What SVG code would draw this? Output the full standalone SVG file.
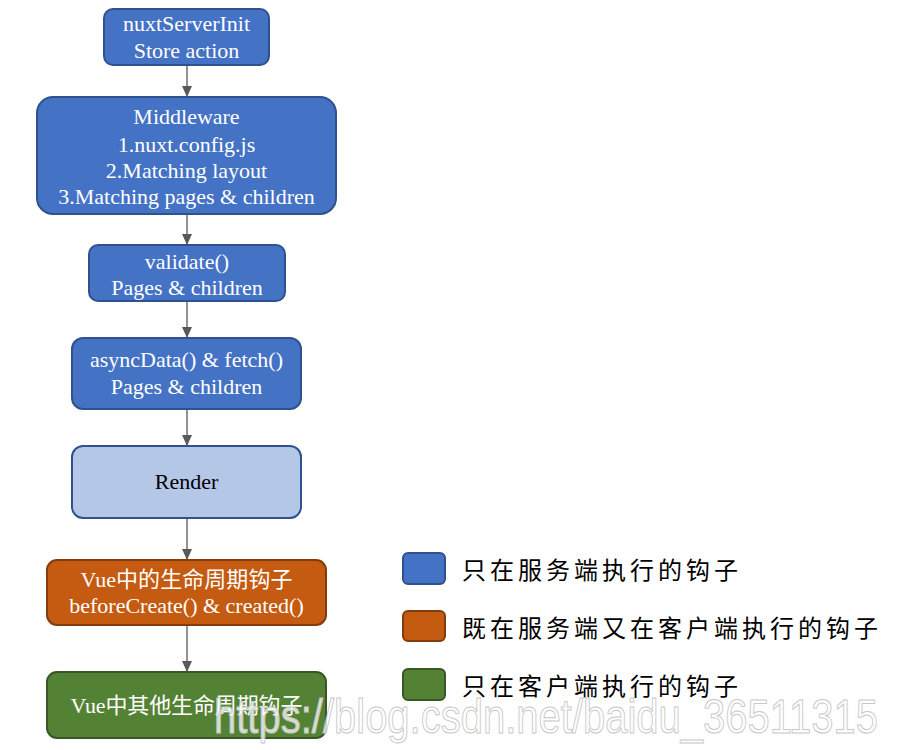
<svg xmlns="http://www.w3.org/2000/svg" width="905" height="750" viewBox="0 0 905 750">
<defs>
<marker id="arr" markerWidth="12" markerHeight="10" refX="11" refY="5" orient="auto" markerUnits="userSpaceOnUse">
<path d="M0,0 L11,5 L0,10 Z" fill="#595959"/>
</marker>
<style>
.blue{fill:#4472C4;stroke:#2F528F;stroke-width:2}
.light{fill:#B4C7E7;stroke:#2F528F;stroke-width:2}
.orange{fill:#C55A11;stroke:#843C0C;stroke-width:2}
.green{fill:#548235;stroke:#385723;stroke-width:2}
.t{font-family:"Liberation Serif","Noto Sans CJK SC",serif;font-size:22px;fill:#fff;text-anchor:middle}
.tb{font-family:"Liberation Serif","Noto Sans CJK SC",serif;font-size:22px;fill:#000;text-anchor:middle}
.leg{font-family:"Noto Sans CJK SC",serif;font-size:24px;fill:#000}
.c{stroke:#595959;stroke-width:1.3;fill:none;marker-end:url(#arr)}
.wm{font-family:"Liberation Sans",sans-serif;font-size:48px;fill:#ffffff;fill-opacity:0.75;stroke:#c8c8c8;stroke-width:1}
</style>
</defs>
<rect width="905" height="750" fill="#fff"/>
<g id="connectors">
<line class="c" x1="187" y1="66" x2="187" y2="97"/>
<line class="c" x1="187" y1="215" x2="187" y2="245"/>
<line class="c" x1="187" y1="302" x2="187" y2="338"/>
<line class="c" x1="187" y1="410" x2="187" y2="446"/>
<line class="c" x1="187" y1="519" x2="187" y2="560"/>
<line class="c" x1="187" y1="626" x2="187" y2="672"/>
</g>
<g id="node-nuxtServerInit">
<rect class="blue" x="104" y="9" width="165" height="56" rx="9"/>
<text class="t" x="186.5" y="31">nuxtServerInit</text>
<text class="t" x="186.5" y="58">Store action</text>
</g>
<g id="node-middleware">
<rect class="blue" x="37" y="97" width="299" height="117" rx="16"/>
<text class="t" x="186.5" y="124">Middleware</text>
<text class="t" x="186.5" y="152">1.nuxt.config.js</text>
<text class="t" x="186.5" y="178">2.Matching layout</text>
<text class="t" x="186.5" y="204">3.Matching pages &amp; children</text>
</g>
<g id="node-validate">
<rect class="blue" x="89" y="245" width="196" height="56" rx="9"/>
<text class="t" x="187" y="269">validate()</text>
<text class="t" x="187" y="295">Pages &amp; children</text>
</g>
<g id="node-asyncData">
<rect class="blue" x="72" y="338" width="229" height="71" rx="11"/>
<text class="t" x="186.5" y="367">asyncData() &amp; fetch()</text>
<text class="t" x="186.5" y="394">Pages &amp; children</text>
</g>
<g id="node-render">
<rect class="light" x="72" y="446" width="229" height="72" rx="11"/>
<text class="tb" x="186.5" y="489">Render</text>
</g>
<g id="node-vue-hooks">
<rect class="orange" x="47" y="560" width="279" height="65" rx="10"/>
<text class="t" x="186.5" y="587" textLength="212" lengthAdjust="spacing">Vue中的生命周期钩子</text>
<text class="t" x="186.5" y="613">beforeCreate() &amp; created()</text>
</g>
<g id="node-vue-other">
<rect class="green" x="47" y="672" width="279" height="66" rx="10"/>
<text class="t" x="186.5" y="713" textLength="232" lengthAdjust="spacing">Vue中其他生命周期钩子</text>
</g>
<g id="legend">
<rect class="blue" x="403" y="553" width="42" height="31" rx="5"/>
<text class="leg" x="462" y="579" textLength="276" lengthAdjust="spacing">只在服务端执行的钩子</text>
<rect class="orange" x="403" y="611" width="42" height="30" rx="5"/>
<text class="leg" x="462" y="637" textLength="416" lengthAdjust="spacing">既在服务端又在客户端执行的钩子</text>
<rect class="green" x="403" y="669" width="42" height="31" rx="5"/>
<text class="leg" x="462" y="695" textLength="276" lengthAdjust="spacing">只在客户端执行的钩子</text>
</g>
<text class="wm" x="214" y="733" textLength="664" lengthAdjust="spacingAndGlyphs">https://blog.csdn.net/baidu_36511315</text>
</svg>
